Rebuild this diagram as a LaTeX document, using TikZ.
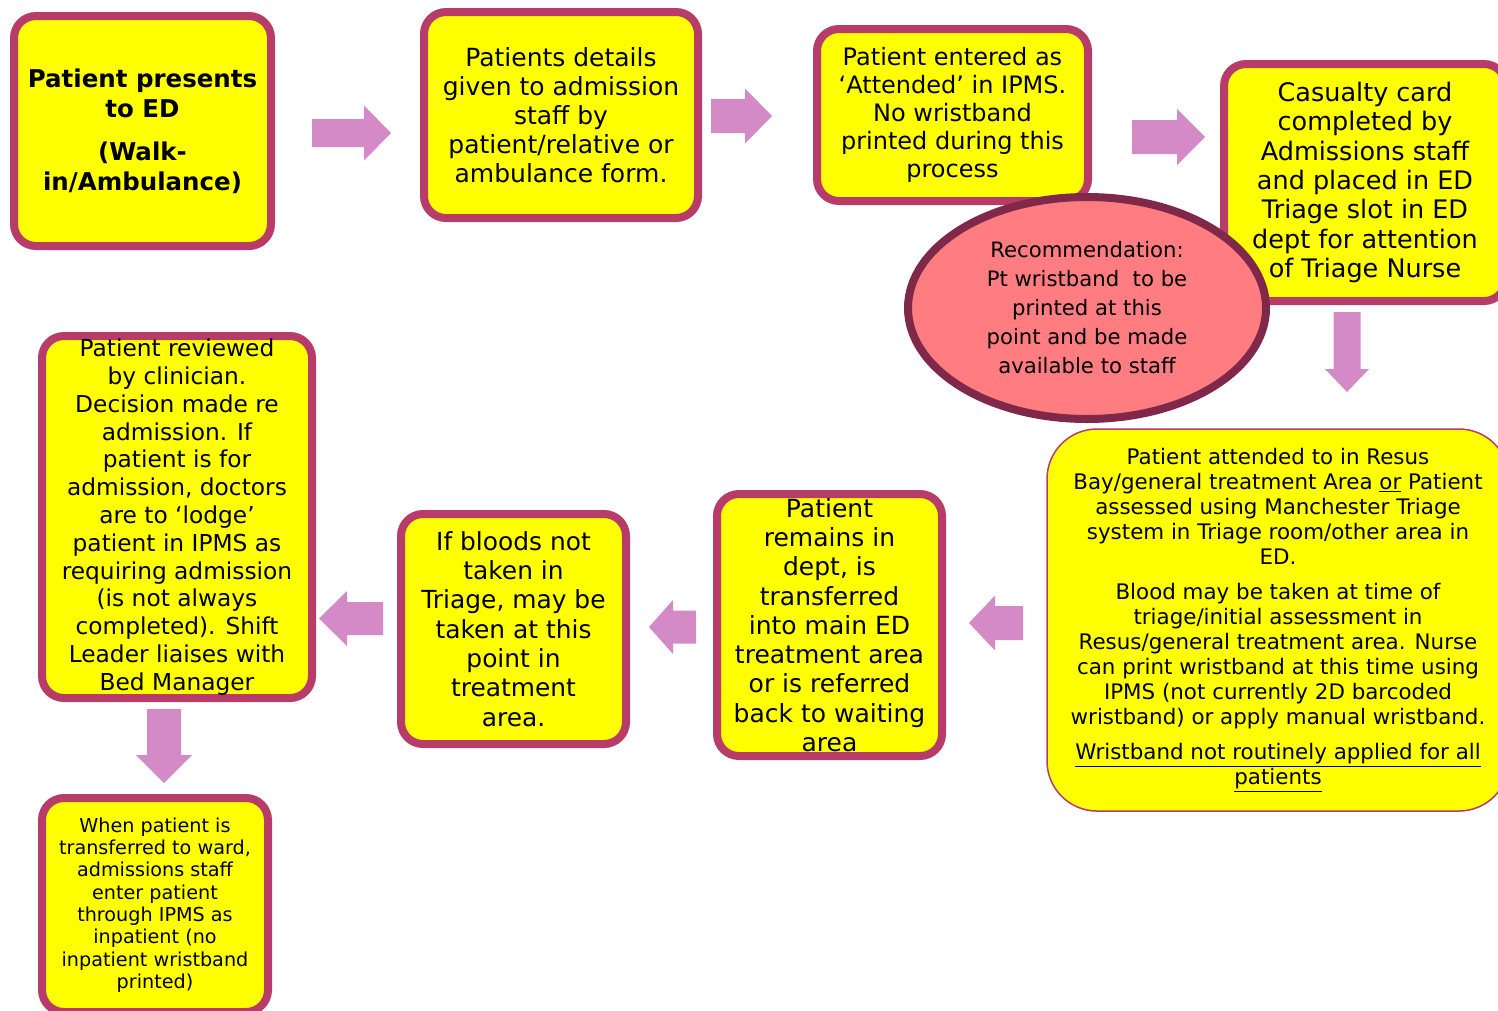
\documentclass[tikz,border=0pt]{standalone}
\usepackage{fontspec}
\setmainfont{DejaVu Sans}
\usetikzlibrary{shapes.geometric}
\definecolor{boxedge}{RGB}{184,60,106}
\definecolor{boxfill}{RGB}{255,255,0}
\definecolor{ovaledge}{RGB}{128,40,74}
\definecolor{ovalfill}{RGB}{255,124,128}
\definecolor{arrowfill}{RGB}{212,138,199}
\newcommand{\fsz}[2]{\fontsize{#1}{#2}\selectfont}

\begin{document}
\begin{tikzpicture}[x=1pt,y=-1pt,
  flow/.style={draw=boxedge,line width=8pt,fill=boxfill,rounded corners=22pt,align=center,inner sep=0pt},
  oval/.style={ellipse,draw=ovaledge,line width=8pt,fill=ovalfill,align=center,inner sep=0pt},
  arr/.style={fill=arrowfill}]
\useasboundingbox (0,0) rectangle (1498,1010);
\clip (0,0) rectangle (1498,1010);
% top row
\node[flow,minimum width=257pt,minimum height=230pt,font=\bfseries\fsz{24.5}{30}] (walkin) at (142.5,131) {Patient presents\\to ED\\[13pt](Walk-\\in/Ambulance)};
\node[flow,minimum width=274pt,minimum height=206pt,font=\fsz{25}{29}] (details) at (561,115) {Patients details\\given to admission\\staff by\\patient/relative or\\ambulance form.};
\node[flow,minimum width=271pt,minimum height=172pt,font=\fsz{24}{28}] (attended) at (952.5,115) {Patient entered as\\‘Attended’ in IPMS.\\No wristband\\printed during this\\process};
\node[flow,minimum width=282pt,minimum height=237pt,font=\fsz{25.5}{29.3}] (card) at (1365,182.5) {Casualty card\\completed by\\Admissions staff\\and placed in ED\\Triage slot in ED\\dept for attention\\of Triage Nurse};
\node[oval,minimum width=358pt,minimum height=222pt,font=\fsz{21.2}{29}] (recom) at (1087,308) {Recommendation:\\Pt wristband~ to be\\printed at this\\point and be made\\available to staff};
% triage and treatment
\node[draw=boxedge,line width=1.5pt,fill=boxfill,rounded corners=50pt,align=center,inner sep=0pt,minimum width=462pt,minimum height=382pt,font=\fsz{21.4}{25}] (resus) at (1278,620) {Patient attended to in Resus\\Bay/general treatment Area \underline{or} Patient\\assessed using Manchester Triage\\system in Triage room/other area in\\ED.\\[10pt]Blood may be taken at time of\\triage/initial assessment in\\Resus/general treatment area. Nurse\\can print wristband at this time using\\IPMS (not currently 2D barcoded\\wristband) or apply manual wristband.\\[10pt]\underline{Wristband not routinely applied for all}\\\underline{patients}};
\node[flow,minimum width=225pt,minimum height=262pt,font=\fsz{25}{29.3}] (remains) at (829.5,625) {Patient\\remains in\\dept, is\\transferred\\into main ED\\treatment area\\or is referred\\back to waiting\\area};
\node[flow,minimum width=225pt,minimum height=230pt,font=\fsz{24.9}{29.3}] (bloods) at (513.5,629) {If bloods not\\taken in\\Triage, may be\\taken at this\\point in\\treatment\\area.};
\node[flow,minimum width=270pt,minimum height=362pt,font=\fsz{23.3}{27.8}] (review) at (177,517) {Patient reviewed\\by clinician.\\Decision made re\\admission. If\\patient is for\\admission, doctors\\are to ‘lodge’\\patient in IPMS as\\requiring admission\\(is not always\\completed). Shift\\Leader liaises with\\Bed Manager};
\node[flow,minimum width=226pt,minimum height=214pt,font=\fsz{19.2}{22.3}] (ward) at (155,905) {When patient is\\transferred to ward,\\admissions staff\\enter patient\\through IPMS as\\inpatient (no\\inpatient wristband\\printed)};
% block arrows
\foreach \xa/\xh/\xb/\yc/\s/\h in {312/364/391/133/14/27.5,711/745/772/116/17/27.5,1132/1177/1205/137/17/28,1023/995/969/623/17/27.5,696/673/649/627/16.5/27,383/347/319/618.5/16.5/27.5}
  \fill[arr] (\xa,\yc-\s) -- (\xh,\yc-\s) -- (\xh,\yc-\h) -- (\xb,\yc) -- (\xh,\yc+\h) -- (\xh,\yc+\s) -- (\xa,\yc+\s) -- cycle;
\foreach \xc/\ya/\yh/\yb/\s/\h in {1347/312/369/392/13.5/22,164/709/755/783/17/28}
  \fill[arr] (\xc-\s,\ya) -- (\xc+\s,\ya) -- (\xc+\s,\yh) -- (\xc+\h,\yh) -- (\xc,\yb) -- (\xc-\h,\yh) -- (\xc-\s,\yh) -- cycle;
\end{tikzpicture}
\end{document}
